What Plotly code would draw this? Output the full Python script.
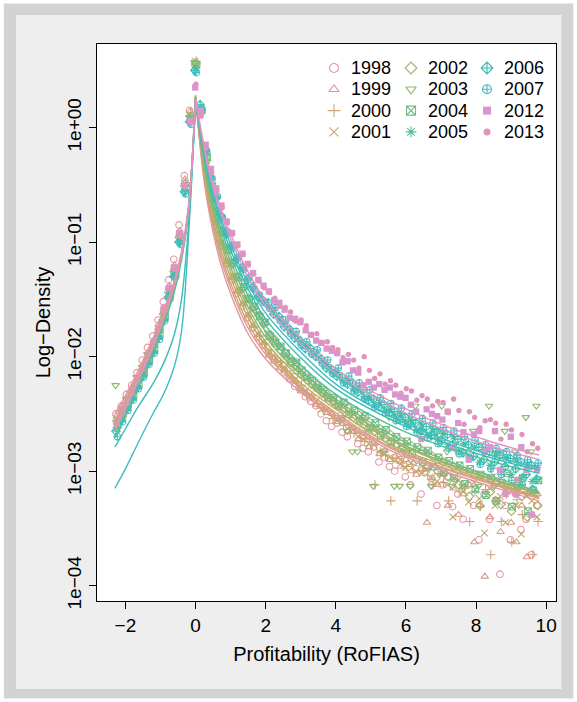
import math
import plotly.graph_objects as go

# ---- data -------------------------------------------------------------
years = ["1998", "1999", "2000", "2001", "2002", "2003",
         "2004", "2005", "2006", "2007", "2012", "2013"]
hue_index = [0, 1, 2, 3, 4, 5, 6, 7, 8, 9, 14, 15]   # position in a 16-year palette
symbols = ["circle-open", "triangle-up-open", "cross-thin-open", "x-thin-open",
           "diamond-open", "triangle-down-open", "square-x-open", "asterisk-open",
           "diamond-cross-open", "circle-cross-open", "square", "circle"]

# histogram bins: first bin centre per year, common bin width
bin_width = 0.15
bin_start = [-2.27, -2.25, -2.23, -2.26, -2.24, -2.28,
             -2.22, -2.25, -2.27, -2.23, -2.26, -2.24]

# empirical log10-density x 100, one value per bin
pts_1998 = [-250, -243, -233, -225, -214, -203, -192, -182, -168, -152, -133, -115, -85, -42, 15, 55,
            14, -31, -61, -84, -103, -119, -133, -145, -156, -166, -175, -183, -190,
            -196, -203, -206, -214, -219, -226, -229, -235, -239, -243, -250, -256, -261,
            -258, -266, -270, -264, -276, -280, -283, -279, -292, -288, -296, -300,
            -290, -305, -312, -298, -320, -300, -312, -330, -312, -305, -331, -320,
            -342, -312, -330, -360, -320, -342, -300, -390, -330, -360, -320, -351, -342, -373, -330]
pts_1999 = [-252, -245, -236, -227, -219, -207, -196, -186, -172, -157, -138, -120, -90, -45, 14, 57,
            16, -30, -59, -82, -101, -117, -131, -143, -154, -164, -173, -181, -188,
            -199, -201, -210, -211, -220, -221, -228, -232, -235, -242, -243, -249, -250,
            -257, -255, -265, -263, -272, -270, -279, -276, -285, -282, -290, -287,
            -296, -290, -300, -303, -298, -345, -306, -312, -303, -330, -315, -338,
            -320, -312, -362, -330, -392, -340, -325, -353, -318, -345, -362, -330, -375, -338, -320]
pts_2000 = [-258, -247, -240, -232, -222, -210, -201, -189, -177, -160, -142, -123, -93, -48, 13, 58,
            15, -29, -60, -83, -102, -118, -132, -144, -155, -165, -174, -182, -189,
            -198, -204, -205, -213, -215, -223, -225, -233, -234, -241, -245, -247, -254,
            -253, -260, -259, -267, -266, -274, -272, -312, -283, -286, -326, -289,
            -293, -296, -294, -326, -300, -304, -312, -302, -310, -326, -307, -318,
            -315, -344, -318, -331, -316, -373, -326, -344, -320, -362, -325, -338, -318, -373, -344]
pts_2001 = [-254, -249, -238, -230, -223, -212, -199, -192, -179, -163, -144, -126, -96, -51, 11, 58,
            13, -30, -58, -81, -100, -116, -130, -142, -153, -163, -172, -180, -187,
            -196, -203, -208, -211, -218, -220, -229, -230, -237, -239, -246, -247, -253,
            -256, -257, -263, -264, -270, -272, -276, -277, -283, -285, -288, -291,
            -290, -297, -293, -300, -302, -298, -306, -309, -303, -312, -340, -308,
            -318, -327, -310, -324, -354, -315, -330, -322, -345, -317, -330, -355, -321, -326, -340]
pts_2002 = [-256, -244, -241, -229, -220, -213, -202, -190, -176, -161, -141, -124, -94, -49, 10, 56,
            16, -25, -52, -73, -91, -106, -119, -130, -140, -149, -157, -164, -171,
            -181, -185, -194, -197, -205, -207, -215, -216, -224, -225, -232, -233, -239,
            -238, -246, -245, -253, -251, -259, -257, -265, -263, -271, -268, -277,
            -274, -284, -278, -290, -282, -296, -287, -300, -292, -305, -296, -312,
            -300, -322, -303, -330, -306, -318, -310, -329, -314, -335, -312, -322, -340, -316, -330]
pts_2003 = [-225, -248, -237, -233, -218, -209, -198, -193, -180, -164, -145, -127, -97, -52, 9, 57,
            17, -24, -53, -72, -92, -105, -120, -129, -141, -148, -158, -163, -172,
            -179, -187, -191, -199, -202, -209, -212, -218, -221, -227, -229, -235, -236,
            -243, -253, -265, -283, -283, -253, -265, -313, -265, -283, -253, -313,
            -313, -283, -313, -243, -265, -283, -313, -265, -243, -283, -313, -283,
            -313, -283, -265, -313, -283, -243, -313, -283, -265, -313, -283, -313, -253, -283, -243]
pts_2004 = [-260, -250, -242, -234, -224, -214, -203, -194, -181, -165, -146, -128, -98, -53, 8, 55,
            15, -26, -51, -74, -90, -107, -118, -131, -139, -150, -156, -165, -170,
            -182, -188, -191, -197, -204, -205, -212, -218, -221, -227, -229, -236, -236,
            -243, -240, -250, -247, -256, -252, -262, -258, -269, -264, -275, -270,
            -281, -274, -285, -279, -292, -282, -296, -288, -301, -291, -306, -295,
            -311, -298, -316, -303, -321, -306, -326, -310, -302, -331, -313, -306, -335, -317, -308]
pts_2005 = [-262, -252, -244, -235, -226, -215, -205, -195, -182, -166, -147, -129, -99, -54, 7, 52,
            18, -20, -44, -61, -78, -92, -104, -114, -123, -132, -140, -147, -152,
            -157, -160, -168, -171, -179, -181, -189, -190, -197, -197, -205, -207, -214,
            -214, -221, -221, -228, -227, -235, -235, -242, -240, -247, -246, -253,
            -250, -258, -255, -264, -259, -268, -263, -272, -267, -277, -270, -282,
            -276, -288, -279, -292, -282, -295, -285, -299, -288, -303, -290, -306, -294, -309, -297]
pts_2006 = [-265, -255, -246, -237, -227, -217, -206, -196, -183, -168, -148, -130, -100, -56, 5, 50,
            20, -19, -43, -62, -77, -93, -103, -115, -122, -133, -139, -148, -151,
            -153, -163, -165, -174, -176, -184, -186, -193, -193, -200, -202, -210, -211,
            -217, -218, -224, -223, -231, -229, -238, -237, -244, -242, -249, -248,
            -255, -253, -259, -258, -265, -261, -269, -265, -273, -268, -277, -272,
            -284, -277, -287, -279, -290, -283, -292, -286, -296, -289, -298, -292, -303, -295, -307]
pts_2007 = [-270, -257, -247, -238, -228, -218, -207, -197, -185, -169, -150, -131, -102, -58, 3, 48,
            16, -21, -45, -60, -79, -91, -105, -113, -124, -131, -141, -146, -153,
            -158, -157, -169, -168, -180, -178, -190, -187, -198, -194, -206, -203, -215,
            -210, -223, -217, -230, -223, -237, -229, -244, -236, -249, -241, -256,
            -245, -261, -250, -266, -254, -271, -258, -276, -262, -280, -265, -285,
            -270, -289, -273, -294, -277, -298, -280, -303, -283, -308, -286, -312, -290, -316, -293]
pts_2012 = [-257, -247, -239, -230, -220, -210, -199, -188, -175, -158, -140, -122, -92, -50, 6, 35,
            15, -15, -36, -53, -68, -82, -92, -102, -110, -119, -127, -133, -138,
            -143, -151, -153, -159, -166, -167, -170, -177, -181, -186, -188, -193, -195,
            -197, -205, -204, -212, -214, -225, -222, -227, -224, -229, -227, -233,
            -235, -236, -242, -248, -272, -246, -250, -252, -255, -248, -279, -258,
            -266, -290, -268, -265, -283, -279, -265, -299, -320, -270, -320, -279, -299, -338, -299]
pts_2013 = [-259, -250, -241, -232, -222, -211, -201, -190, -177, -160, -141, -124, -95, -52, 4, 38,
            10, -18, -39, -55, -70, -83, -93, -103, -111, -120, -128, -134, -140,
            -144, -149, -156, -157, -161, -169, -168, -173, -181, -180, -188, -187, -192,
            -194, -201, -198, -203, -210, -200, -212, -219, -215, -224, -221, -225,
            -232, -228, -230, -238, -234, -237, -243, -239, -240, -249, -237, -247,
            -259, -248, -253, -262, -256, -255, -258, -272, -259, -264, -307, -268, -283, -276, -280]

# fitted densities (log10 x 100) at the nodes below, left and right of the mode
fit_x_left = [-2.3, -2.0, -1.6, -1.2, -0.9, -0.6, -0.4, -0.2, 0.0]
fit_x_right = [0.0, 0.2, 0.4, 0.7, 1.0, 1.5, 2.0, 3.0, 4.0, 5.5, 7.0, 8.5, 9.8]

fitL_1998 = [-250, -234, -210, -183, -160, -133, -108, -68, 28]
fitL_1999 = [-255, -238, -213, -186, -162, -135, -110, -70, 27]
fitL_2000 = [-258, -241, -215, -188, -164, -136, -111, -71, 28]
fitL_2001 = [-260, -243, -217, -189, -165, -137, -111, -71, 26]
fitL_2002 = [-262, -244, -218, -190, -166, -138, -112, -72, 27]
fitL_2003 = [-264, -246, -219, -191, -167, -139, -113, -72, 26]
fitL_2004 = [-266, -247, -220, -192, -168, -139, -113, -73, 25]
fitL_2005 = [-271, -252, -225, -196, -172, -143, -116, -75, 24]
fitL_2006 = [-279, -263, -242, -223, -205, -180, -150, -85, 22]
fitL_2007 = [-315, -298, -273, -249, -232, -208, -178, -95, 20]
fitL_2012 = [-262, -243, -217, -189, -165, -137, -111, -71, 24]
fitL_2013 = [-265, -246, -219, -191, -166, -138, -112, -72, 25]

fitR_1998 = [28, -36, -76, -117, -145, -180, -202, -231, -253, -281, -299, -314, -326]
fitR_1999 = [27, -33, -72, -112, -140, -175, -198, -228, -251, -279, -297, -312, -324]
fitR_2000 = [28, -31, -69, -108, -136, -171, -195, -226, -249, -278, -296, -311, -323]
fitR_2001 = [26, -28, -65, -104, -131, -166, -191, -223, -246, -276, -294, -310, -322]
fitR_2002 = [27, -25, -61, -99, -126, -161, -187, -219, -243, -272, -292, -308, -320]
fitR_2003 = [26, -23, -58, -95, -122, -157, -183, -216, -240, -270, -291, -307, -319]
fitR_2004 = [25, -21, -55, -91, -117, -152, -178, -212, -237, -267, -289, -305, -318]
fitR_2005 = [24, -18, -51, -86, -112, -147, -173, -207, -233, -259, -278, -292, -302]
fitR_2006 = [22, -15, -47, -81, -107, -141, -167, -201, -228, -254, -274, -289, -299]
fitR_2007 = [20, -13, -44, -77, -102, -136, -162, -196, -224, -251, -271, -287, -297]
fitR_2012 = [24, -11, -41, -73, -97, -131, -156, -189, -215, -242, -263, -279, -290]
fitR_2013 = [25, -9, -38, -69, -93, -126, -151, -184, -211, -238, -259, -275, -286]

points = [pts_1998, pts_1999, pts_2000, pts_2001, pts_2002, pts_2003,
          pts_2004, pts_2005, pts_2006, pts_2007, pts_2012, pts_2013]
fits_left = [fitL_1998, fitL_1999, fitL_2000, fitL_2001, fitL_2002, fitL_2003,
             fitL_2004, fitL_2005, fitL_2006, fitL_2007, fitL_2012, fitL_2013]
fits_right = [fitR_1998, fitR_1999, fitR_2000, fitR_2001, fitR_2002, fitR_2003,
              fitR_2004, fitR_2005, fitR_2006, fitR_2007, fitR_2012, fitR_2013]

x_ticks = [-2, 0, 2, 4, 6, 8, 10]
y_ticks = [1e-4, 1e-3, 1e-2, 1e-1, 1.0]
y_tick_text = ["1e\u221204", "1e\u221203", "1e\u221202", "1e\u221201", "1e+00"]


# ---- helpers ------------------------------------------------------------
def hcl_hex(h, c=50.0, l=70.0):
    """Polar CIE-Luv (HCL) colour to sRGB hex."""
    hr = math.radians(h)
    u, v = c * math.cos(hr), c * math.sin(hr)
    xn, yn, zn = 95.047, 100.0, 108.883
    y = yn * ((l + 16.0) / 116.0) ** 3
    t = xn + 15 * yn + 3 * zn
    up = u / (13 * l) + 4 * xn / t
    vp = v / (13 * l) + 9 * yn / t
    x = 9.0 * y * up / (4 * vp)
    z = -x / 3 - 5 * y + 3 * y / vp
    x, y, z = x / 100, y / 100, z / 100
    rgb = [3.240479 * x - 1.537150 * y - 0.498535 * z,
           -0.969256 * x + 1.875992 * y + 0.041556 * z,
           0.055648 * x - 0.204043 * y + 1.057311 * z]
    out = []
    for ch in rgb:
        ch = 12.92 * ch if ch <= 0.0031308 else 1.055 * ch ** (1 / 2.4) - 0.055
        out.append(int(round(min(max(ch, 0.0), 1.0) * 255)))
    return "#%02X%02X%02X" % tuple(out)


def to_density(vals):
    return [None if v is None else 10 ** (v / 100.0) for v in vals]


colors = [hcl_hex(360.0 * k / 16) for k in hue_index]

# plot-area geometry in pixels (used for frame and legend placement)
W, H = 577, 702
L, R, T, B = 97, 21, 44, 101
PW, PH = W - L - R, H - T - B


def px_to_paper(px, py):
    return (px - L) / PW, (H - B - py) / PH


FONT = "Liberation Sans, Arial, Helvetica, sans-serif"

fig = go.Figure()

# binned empirical densities
for k, yr in enumerate(years):
    vals = points[k]
    xs = [bin_start[k] + i * bin_width for i in range(len(vals))]
    filled = symbols[k] in ("square", "circle")
    size = 6.3 if symbols[k] == "square" else (5.3 if symbols[k] == "circle" else 6.6)
    fig.add_trace(go.Scatter(
        x=xs, y=to_density(vals), mode="markers", name=yr, showlegend=False,
        marker=dict(symbol=symbols[k], size=size, color=colors[k],
                    line=dict(width=0 if filled else 1.1, color=colors[k])),
        hoverinfo="skip"))

# fitted densities drawn over the points
for k, yr in enumerate(years):
    xs = fit_x_left + [None] + fit_x_right
    ys = fits_left[k] + [None] + fits_right[k]
    fig.add_trace(go.Scatter(
        x=xs, y=to_density(ys), mode="lines", showlegend=False,
        line=dict(color=colors[k], width=1.4, shape="spline", smoothing=1.0),
        connectgaps=False, hoverinfo="skip"))

# legend keys: three columns of four entries
leg_cols_px = [334, 411, 487]
leg_rows_px = [68.0, 89.3, 110.6, 131.9]
for k, yr in enumerate(years):
    c, r = divmod(k, 4)
    u, v = px_to_paper(leg_cols_px[c], leg_rows_px[r])
    filled = symbols[k] in ("square", "circle")
    size = 8.0 if symbols[k] == "square" else (7.0 if symbols[k] == "circle" else 9.0)
    fig.add_trace(go.Scatter(
        x=[u], y=[v], xaxis="x2", yaxis="y2", mode="markers", showlegend=False,
        marker=dict(symbol=symbols[k], size=size, color=colors[k],
                    line=dict(width=0 if filled else 1.1, color=colors[k])),
        hoverinfo="skip"))
    fig.add_annotation(x=u + 15.0 / PW, y=v, xref="paper", yref="paper", text=yr,
                       showarrow=False, xanchor="left", yanchor="middle",
                       font=dict(family=FONT, size=18, color="black"))

# grey page frame
fig.add_shape(type="rect", xref="paper", yref="paper",
              x0=(10 - L) / PW, x1=(567.5 - L) / PW,
              y0=(H - B - 695) / PH, y1=(H - B - 9) / PH,
              line=dict(color="#D3D3D3", width=12), fillcolor="rgba(0,0,0,0)", layer="below")
fig.add_shape(type="rect", xref="paper", yref="paper",
              x0=(0 - L) / PW, x1=(W - L) / PW,
              y0=(H - B - H) / PH, y1=(H - B) / PH,
              line=dict(color="white", width=7), fillcolor="rgba(0,0,0,0)", layer="below")

axis_common = dict(showline=True, mirror=True, linecolor="black", linewidth=1,
                   ticks="outside", ticklen=7, tickwidth=1, tickcolor="black",
                   showgrid=False, zeroline=False,
                   tickfont=dict(family=FONT, size=19, color="black"))

fig.update_layout(
    width=W, height=H, autosize=False,
    margin=dict(l=L, r=R, t=T, b=B, pad=0),
    paper_bgcolor="#EEEEEE", plot_bgcolor="white",
    font=dict(family=FONT, color="black"),
    showlegend=False,
    xaxis=dict(range=[-2.81, 10.28], tickvals=x_ticks,
               ticktext=[("\u2212%d" % -t) if t < 0 else str(t) for t in x_ticks],
               title=dict(text="Profitability (RoFIAS)", standoff=12,
                          font=dict(family=FONT, size=20, color="black")),
               **axis_common),
    yaxis=dict(type="log", range=[-4.134, 0.73], tickvals=y_ticks, ticktext=y_tick_text,
               tickangle=-90,
               title=dict(text="Log\u2212Density", standoff=8,
                          font=dict(family=FONT, size=20, color="black")),
               **axis_common),
    xaxis2=dict(domain=[0, 1], range=[0, 1], overlaying="x", anchor="y2", visible=False),
    yaxis2=dict(domain=[0, 1], range=[0, 1], overlaying="y", anchor="x2", visible=False),
)

fig.write_html("out.html")
